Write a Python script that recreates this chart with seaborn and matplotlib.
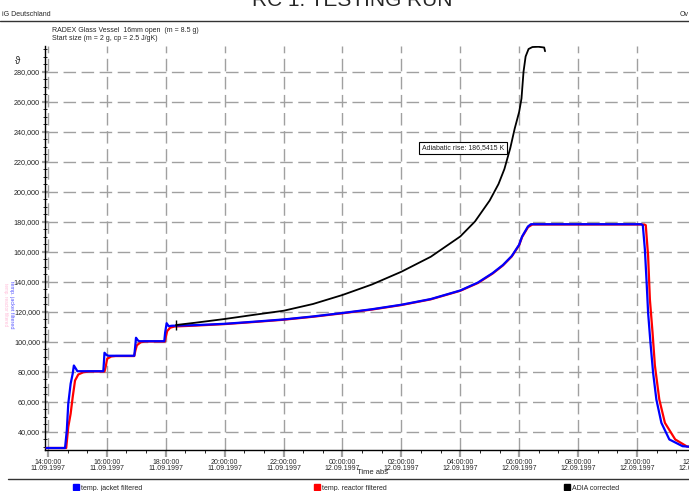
import datetime as dt
import pandas as pd
import seaborn as sns
import matplotlib.pyplot as plt
from matplotlib.lines import Line2D
from matplotlib.ticker import MultipleLocator, FuncFormatter

# hours after 11.09.1997 14:00:00
jacket_t = [-0.05, 0.58, 0.64, 0.69, 0.77, 0.84, 0.88, 0.95, 1.0, 1.88, 1.9, 1.92, 1.99, 2.05,
            2.93, 2.96, 2.99, 3.05, 3.1, 3.95, 3.98, 4.03, 4.1, 4.2, 5.0, 6.0, 7.0, 8.0, 9.0,
            10.0, 11.0, 12.0, 13.0, 14.0, 14.6, 15.1, 15.45, 15.75, 16.0, 16.1, 16.3, 16.4,
            17.0, 18.0, 19.0, 20.0, 20.15, 20.2, 20.27, 20.33, 20.38, 20.46, 20.55, 20.66,
            20.83, 21.1, 21.55, 22.0]
jacket_v = [29, 29, 40.7, 58.5, 71.8, 78.5, 84, 81.8, 80.2, 80.2, 86, 92.5, 91, 90.5,
            90.5, 96, 102.5, 100.8, 100.2, 100.2, 106, 112.2, 110.2, 110.5, 110.9, 111.8,
            113.2, 114.7, 116.7, 119, 121.5, 124.5, 128.3, 134, 139.3, 145.6, 151, 157,
            164.5, 170, 176.7, 178.2, 178.2, 178.2, 178.2, 178.2, 178.2, 177.5, 161.3, 139,
            119, 99, 79, 61.3, 45.8, 34.7, 30.2, 29.5]

reactor_t = [-0.05, 0.62, 0.69, 0.77, 0.84, 0.92, 1.03, 1.2, 1.4, 1.92, 1.97, 2.01, 2.15, 2.3,
             2.93, 2.97, 3.02, 3.15, 3.3, 3.97, 4.0, 4.05, 4.15, 4.3, 5.0, 6.0, 7.0, 8.0, 9.0,
             10.0, 11.0, 12.0, 13.0, 14.0, 14.6, 15.1, 15.45, 15.75, 16.0, 16.1, 16.3, 16.45,
             17.0, 18.0, 19.0, 20.0, 20.25, 20.3, 20.38, 20.44, 20.53, 20.61, 20.76, 20.95,
             21.3, 21.7, 22.0]
reactor_v = [29, 29, 43, 51.8, 62.9, 74, 78, 79.5, 80, 80, 84, 88.5, 90, 90.3,
             90.3, 94, 97.5, 99.5, 100, 100, 103, 107, 109.2, 110, 110.6, 111.6, 113, 114.5,
             116.5, 118.8, 121.3, 124.3, 128.1, 133.8, 139, 145.3, 150.7, 156.7, 164.2,
             169.6, 176.2, 178, 178, 178, 178, 178, 178, 177.5, 156.9, 128, 106, 84, 61.3,
             45.8, 34.7, 30, 29.5]

adia_t = [4.35, 5.0, 6.0, 7.0, 8.0, 9.0, 10.0, 11.0, 12.0, 13.0, 14.0, 14.5, 15.0, 15.3,
          15.5, 15.7, 15.85, 16.0, 16.08, 16.15, 16.22, 16.32, 16.45, 16.65, 16.85, 16.88]
adia_v = [111, 112.5, 115, 117.8, 120.5, 125, 131, 138, 146.5, 156.5, 170, 180, 194, 205,
          215, 229, 242, 253, 262, 280, 290, 295, 296.3, 296.5, 296, 293.5]

series_names = ["temp. jacket filtered", "temp. reactor filtered", "ADIA corrected"]
series_colors = ["#0000ff", "#ff0000", "#000000"]
annot_text = "Adiabatic rise: 186,5415 K"
annot_at = (15.7, 229)
t0 = dt.datetime(1997, 9, 11, 14, 0, 0)

sns.set_theme(style="white")
plt.rcParams["font.family"] = ["Liberation Sans", "DejaVu Sans"]

fig = plt.figure(figsize=(6.89, 4.91), dpi=100)
W, H = 689, 491
ax = fig.add_axes([45.0 / W, 41.5 / H, 668.5 / W, 403.5 / H])

df_r = pd.DataFrame({"t": reactor_t, "v": reactor_v})
df_j = pd.DataFrame({"t": jacket_t, "v": jacket_v})
df_a = pd.DataFrame({"t": adia_t, "v": adia_v})
sns.lineplot(data=df_r, x="t", y="v", ax=ax, color=series_colors[1], linewidth=1.6,
             sort=False, estimator=None, zorder=3)
sns.lineplot(data=df_j, x="t", y="v", ax=ax, color=series_colors[0], linewidth=1.6,
             sort=False, estimator=None, zorder=4)
sns.lineplot(data=df_a, x="t", y="v", ax=ax, color=series_colors[2], linewidth=1.3,
             sort=False, estimator=None, zorder=5)
ax.plot(adia_t[0], adia_v[0], marker="|", color="black", markersize=7, zorder=6)

ax.set_xlim(-0.1, 22.6)
ax.set_ylim(28, 297)
ax.xaxis.set_major_locator(MultipleLocator(2))
ax.xaxis.set_minor_locator(MultipleLocator(2 / 3))
ax.yaxis.set_major_locator(MultipleLocator(20))
ax.yaxis.set_minor_locator(MultipleLocator(5))
ax.xaxis.set_major_formatter(FuncFormatter(
    lambda x, p: (t0 + dt.timedelta(hours=x)).strftime("%H:%M:%S\n%d.%m.%Y")))
ax.yaxis.set_major_formatter(FuncFormatter(lambda y, p: f"{y:.3f}".replace(".", ",")))
ax.tick_params(axis="x", which="major", labelsize=5, length=5, width=1.6,
               color="#a0a0a0", pad=1.5, bottom=True)
ax.tick_params(axis="y", which="major", labelsize=5.2, length=4, width=1.6,
               color="#a0a0a0", pad=1.5, left=True, direction="inout")
ax.tick_params(axis="x", which="minor", length=2.5, width=0.6, color="black", bottom=True)
ax.tick_params(axis="y", which="minor", length=3, width=0.6, color="black", left=True,
               direction="inout")
for lab in ax.get_xticklabels():
    lab.set_linespacing(0.95)
ax.grid(True, which="major", color="#a0a0a0", linestyle=(0, (9, 4)), linewidth=1.0)
for s in ["top", "right"]:
    ax.spines[s].set_visible(False)
for s in ["left", "bottom"]:
    ax.spines[s].set_color("black")
    ax.spines[s].set_linewidth(1.0)
ax.set_xlabel("")
ax.set_ylabel("")

ax.annotate(annot_text, xy=annot_at, xytext=(14.1, 229), fontsize=5, ha="center",
            va="center", color="#222222",
            bbox=dict(boxstyle="square,pad=0.4", fc="white", ec="black", lw=0.8),
            arrowprops=dict(arrowstyle="-", color="black", lw=0.8), zorder=7)

# page furniture
fig.text(357 / W, 1 - 473 / H, "Time abs", fontsize=5.5, ha="left", va="center")
fig.text(2 / W, 1 - 14 / H, "iG Deutschland", fontsize=5, va="center")
fig.text(680 / W, 1 - 14 / H, "Ov", fontsize=5, va="center")
fig.text(352 / W, 1 - 6 / H, "RC 1: TESTING RUN", fontsize=15, ha="center",
         va="baseline")
fig.text(52 / W, 1 - 30 / H, "RADEX Glass Vessel  16mm open  (m = 8.5 g)", fontsize=5,
         va="center")
fig.text(52 / W, 1 - 38 / H, "Start size (m = 2 g, cp = 2.5 J/gK)", fontsize=5,
         va="center")
fig.text(18 / W, 1 - 61 / H, "\u03d1", fontsize=7, ha="center", va="center")
fig.text(11 / W, 1 - 305 / H, series_names[0], fontsize=4, color="#5a5aff",
         rotation=270, ha="center", va="center")
fig.text(5 / W, 1 - 305 / H, series_names[1], fontsize=3.3, color="#ff8fbf",
         rotation=270, ha="center", va="center", alpha=0.6)
fig.add_artist(Line2D([0, 1], [1 - 21 / H, 1 - 21 / H], color="#333333", lw=1.0))
fig.add_artist(Line2D([8 / W, 1], [1 - 479 / H, 1 - 479 / H], color="#333333", lw=1.0))

for name, color, xpos in zip(series_names, series_colors, [73, 314, 564]):
    h = Line2D([], [], marker="s", linestyle="none", color=color, markersize=4)
    fig.legend(handles=[h], labels=[name], loc="center left", frameon=False,
               bbox_to_anchor=(xpos / W, 1 - 488 / H), fontsize=5, handletextpad=0.2,
               borderaxespad=0, borderpad=0, handlelength=1.0)

fig.savefig("out.png", dpi=100)
